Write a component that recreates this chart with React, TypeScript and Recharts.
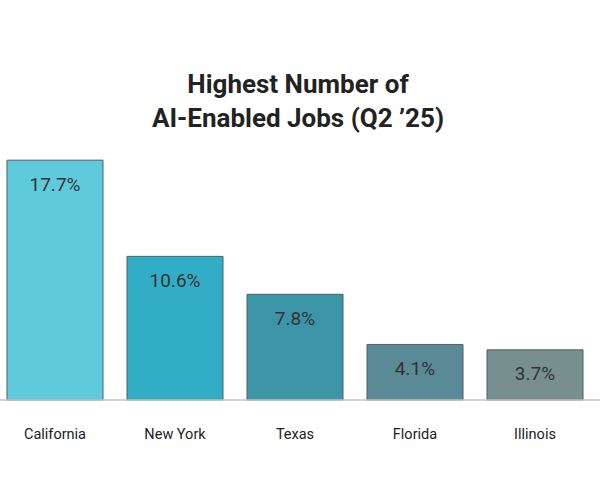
import React from "react";
import { BarChart, Bar, XAxis, YAxis, Cell, LabelList } from "recharts";

const states = ["California", "New York", "Texas", "Florida", "Illinois"];
const shares = [17.7, 10.6, 7.8, 4.1, 3.7];
const barColors = ["#5fcadc", "#31aec5", "#3c94a7", "#5a8a95", "#788f8f"];
const titleLines = ["Highest Number of", "AI-Enabled Jobs (Q2 \u201925)"];

const data = states.map((s, i) => ({ state: s, value: shares[i] }));

const Tick = (props: any) => {
  const { x, y, payload } = props;
  return (
    <text
      x={x}
      y={y + 26}
      textAnchor="middle"
      dominantBaseline="central"
      fontFamily="Roboto"
      fontSize={14.5}
      fill="#222"
    >
      {payload.value}
    </text>
  );
};

const ValueLabel = (props: any) => {
  const { x, y, width, value } = props;
  return (
    <text
      x={x + width / 2}
      y={y + 24}
      textAnchor="middle"
      dominantBaseline="central"
      fontFamily="Roboto"
      fontSize={19}
      fill="#333"
    >
      {`${value}%`}
    </text>
  );
};

export default function App() {
  return (
    <div style={{ position: "absolute", left: 0, top: 0, width: 600, height: 500, background: "#fff" }}>
      <div
        style={{
          position: "absolute",
          left: 0,
          top: 67,
          width: 596,
          textAlign: "center",
          fontFamily: "Roboto",
          fontWeight: 700,
          fontSize: 26,
          lineHeight: "34px",
          color: "#222",
        }}
      >
        {titleLines.map((t) => (
          <div key={t}>{t}</div>
        ))}
      </div>
      <BarChart
        width={600}
        height={500}
        data={data}
        margin={{ top: 129, right: 0, bottom: 70, left: 0 }}
        barCategoryGap="10%"
      >
        <YAxis hide domain={[0, 20]} />
        <XAxis
          dataKey="state"
          height={30}
          padding={{ left: -5, right: 5 }}
          axisLine={{ stroke: "#c4c4c4", strokeWidth: 1.5 }}
          tickLine={false}
          tick={<Tick />}
          interval={0}
        />
        <Bar dataKey="value" isAnimationActive={false} stroke="#4d5f66" strokeWidth={1}>
          {data.map((d, i) => (
            <Cell key={d.state} fill={barColors[i]} />
          ))}
          <LabelList dataKey="value" content={<ValueLabel />} />
        </Bar>
      </BarChart>
    </div>
  );
}
